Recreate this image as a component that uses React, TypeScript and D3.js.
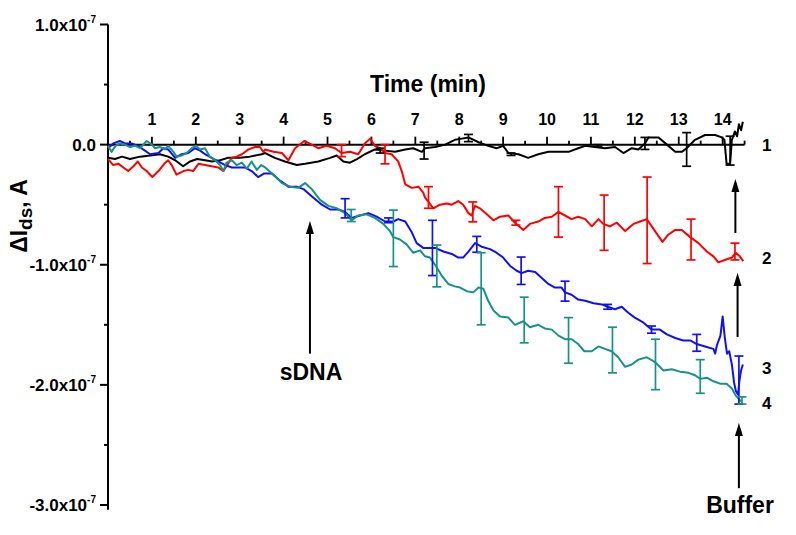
import React from "react";
import * as d3 from "d3";

// Time (min) vs ΔIds (units of 1e-7 A)
const series1: [number, number][] = [[0,-0.11],[0.16,-0.12],[0.32,-0.10],[0.5,-0.12],[0.73,-0.10],[0.96,-0.09],[1.18,-0.08],[1.37,-0.10],[1.53,-0.13],[1.71,-0.18],[1.87,-0.14],[2.03,-0.12],[2.21,-0.13],[2.37,-0.14],[2.55,-0.13],[2.73,-0.11],[3.0,-0.11],[3.23,-0.10],[3.5,-0.08],[3.58,-0.07],[3.80,-0.11],[4.03,-0.14],[4.30,-0.17],[4.49,-0.16],[4.79,-0.14],[5.06,-0.11],[5.21,-0.09],[5.36,-0.14],[5.51,-0.15],[5.67,-0.12],[5.85,-0.08],[6.08,-0.04],[6.31,-0.05],[6.54,-0.06],[6.77,-0.04],[6.95,-0.03],[7.15,-0.06],[7.22,-0.03],[7.45,-0.02],[7.68,0],[7.90,0.04],[8.06,0.05],[8.21,0.06],[8.44,0.02],[8.66,-0.01],[8.85,-0.03],[9.0,-0.01],[9.12,-0.07],[9.35,-0.08],[9.57,-0.11],[9.80,-0.08],[10.03,-0.06],[10.26,-0.06],[10.49,-0.06],[10.71,-0.03],[10.87,-0.01],[11.09,-0.02],[11.32,-0.03],[11.55,-0.02],[11.74,-0.07],[11.93,-0.03],[12.08,-0.04],[12.23,0.01],[12.31,0.06],[12.54,0.06],[12.73,0.0],[12.92,-0.06],[13.07,-0.06],[13.18,-0.03],[13.37,0.04],[13.6,0.08],[13.83,0.08],[13.98,0.06],[14.04,0.04],[14.09,-0.16],[14.17,-0.16],[14.21,0.04],[14.28,0.11],[14.33,0.07],[14.37,0.17],[14.42,0.12],[14.46,0.19]];

const series2: [number, number][] = [[0,-0.12],[0.12,-0.17],[0.24,-0.16],[0.35,-0.19],[0.46,-0.22],[0.58,-0.18],[0.68,-0.14],[0.77,-0.19],[0.88,-0.22],[1.01,-0.27],[1.15,-0.22],[1.28,-0.16],[1.37,-0.13],[1.45,-0.17],[1.56,-0.25],[1.72,-0.22],[1.83,-0.21],[1.94,-0.22],[2.06,-0.16],[2.21,-0.17],[2.36,-0.18],[2.51,-0.19],[2.63,-0.22],[2.70,-0.18],[2.82,-0.11],[2.93,-0.10],[3.05,-0.08],[3.20,-0.04],[3.35,-0.02],[3.46,-0.02],[3.54,-0.06],[3.58,-0.04],[3.77,-0.06],[3.96,-0.07],[4.11,-0.13],[4.26,-0.03],[4.47,0.03],[4.64,0],[4.79,-0.03],[4.98,-0.01],[5.17,-0.03],[5.32,-0.07],[5.51,-0.06],[5.70,-0.08],[5.85,0.01],[5.97,0.05],[6.08,-0.01],[6.2,-0.03],[6.31,-0.07],[6.46,-0.08],[6.61,-0.14],[6.69,-0.22],[6.77,-0.33],[6.92,-0.36],[7.07,-0.35],[7.18,-0.40],[7.22,-0.44],[7.41,-0.53],[7.56,-0.50],[7.72,-0.49],[7.83,-0.50],[7.98,-0.47],[8.09,-0.50],[8.21,-0.57],[8.28,-0.59],[8.36,-0.51],[8.47,-0.53],[8.63,-0.58],[8.78,-0.63],[8.93,-0.60],[9.12,-0.59],[9.27,-0.65],[9.46,-0.71],[9.61,-0.66],[9.80,-0.64],[9.95,-0.61],[10.11,-0.60],[10.26,-0.56],[10.41,-0.59],[10.56,-0.62],[10.71,-0.60],[10.87,-0.62],[11.02,-0.68],[11.17,-0.62],[11.28,-0.66],[11.43,-0.68],[11.59,-0.65],[11.78,-0.72],[11.97,-0.66],[12.12,-0.64],[12.27,-0.62],[12.46,-0.72],[12.63,-0.81],[12.76,-0.75],[12.92,-0.71],[13.07,-0.71],[13.26,-0.77],[13.45,-0.82],[13.64,-0.89],[13.79,-0.93],[13.90,-0.98],[14.05,-0.96],[14.21,-0.94],[14.3,-0.90],[14.39,-0.93],[14.47,-0.97]];

const series3: [number, number][] = [[0,-0.03],[0.12,0.01],[0.27,0.03],[0.39,0.01],[0.54,0.01],[0.69,-0.01],[0.80,-0.04],[0.96,-0.08],[1.15,-0.07],[1.26,-0.03],[1.37,-0.04],[1.53,-0.11],[1.68,-0.08],[1.83,-0.07],[1.98,-0.03],[2.10,-0.05],[2.21,-0.08],[2.36,-0.11],[2.51,-0.14],[2.67,-0.17],[2.82,-0.19],[2.97,-0.19],[3.12,-0.19],[3.27,-0.22],[3.42,-0.27],[3.56,-0.24],[3.73,-0.24],[3.92,-0.30],[4.11,-0.35],[4.30,-0.35],[4.45,-0.37],[4.64,-0.43],[4.87,-0.50],[5.06,-0.54],[5.25,-0.54],[5.40,-0.56],[5.55,-0.61],[5.74,-0.59],[5.93,-0.57],[6.12,-0.60],[6.31,-0.64],[6.50,-0.64],[6.61,-0.62],[6.77,-0.64],[6.92,-0.73],[7.03,-0.82],[7.18,-0.86],[7.45,-0.86],[7.64,-0.89],[7.83,-0.91],[7.98,-0.94],[8.09,-0.94],[8.21,-0.89],[8.36,-0.82],[8.51,-0.85],[8.70,-0.87],[8.85,-0.90],[9.00,-0.94],[9.16,-1.01],[9.31,-1.05],[9.42,-1.07],[9.57,-1.05],[9.73,-1.06],[9.88,-1.11],[10.03,-1.16],[10.18,-1.19],[10.33,-1.19],[10.41,-1.23],[10.56,-1.25],[10.71,-1.29],[10.87,-1.30],[11.06,-1.32],[11.25,-1.33],[11.38,-1.35],[11.55,-1.37],[11.70,-1.35],[11.85,-1.40],[12.00,-1.44],[12.19,-1.48],[12.38,-1.54],[12.57,-1.54],[12.73,-1.58],[12.92,-1.61],[13.10,-1.63],[13.26,-1.63],[13.41,-1.66],[13.6,-1.68],[13.79,-1.70],[13.83,-1.74],[13.87,-1.67],[13.95,-1.59],[14.0,-1.43],[14.05,-1.61],[14.10,-1.74],[14.15,-1.72],[14.21,-1.83],[14.26,-1.98],[14.30,-2.05],[14.35,-2.08],[14.38,-1.97],[14.42,-1.88],[14.46,-1.83]];

const series4: [number, number][] = [[0,-0.01],[0.08,-0.06],[0.17,-0.01],[0.27,0.01],[0.39,0.0],[0.50,-0.02],[0.62,-0.01],[0.73,-0.03],[0.88,0.03],[1.0,0.0],[1.07,-0.03],[1.18,-0.02],[1.30,-0.04],[1.37,-0.01],[1.49,-0.06],[1.56,-0.10],[1.68,-0.09],[1.79,-0.07],[1.91,-0.03],[2.0,-0.01],[2.10,-0.04],[2.21,-0.03],[2.32,-0.10],[2.44,-0.13],[2.55,-0.17],[2.63,-0.22],[2.70,-0.15],[2.82,-0.13],[2.93,-0.17],[3.05,-0.15],[3.16,-0.20],[3.27,-0.14],[3.39,-0.21],[3.49,-0.17],[3.58,-0.19],[3.77,-0.25],[3.96,-0.32],[4.15,-0.35],[4.33,-0.36],[4.49,-0.32],[4.64,-0.37],[4.83,-0.46],[5.02,-0.51],[5.21,-0.53],[5.40,-0.57],[5.55,-0.63],[5.70,-0.59],[5.89,-0.58],[6.08,-0.61],[6.27,-0.66],[6.42,-0.72],[6.50,-0.77],[6.65,-0.79],[6.80,-0.83],[6.95,-0.90],[7.11,-0.88],[7.22,-0.93],[7.33,-0.94],[7.45,-1.00],[7.60,-1.09],[7.75,-1.16],[7.90,-1.18],[8.02,-1.19],[8.17,-1.22],[8.32,-1.23],[8.44,-1.19],[8.55,-1.20],[8.66,-1.30],[8.78,-1.38],[8.93,-1.43],[9.12,-1.44],[9.27,-1.50],[9.46,-1.47],[9.61,-1.52],[9.80,-1.50],[9.95,-1.53],[10.11,-1.54],[10.26,-1.59],[10.41,-1.62],[10.56,-1.62],[10.71,-1.66],[10.85,-1.72],[11.02,-1.72],[11.17,-1.68],[11.32,-1.70],[11.47,-1.72],[11.62,-1.77],[11.78,-1.85],[11.93,-1.83],[12.08,-1.79],[12.27,-1.77],[12.46,-1.81],[12.65,-1.88],[12.84,-1.87],[13.03,-1.89],[13.22,-1.90],[13.37,-1.92],[13.49,-1.95],[13.64,-1.94],[13.79,-1.97],[13.94,-1.99],[14.09,-1.99],[14.21,-2.03],[14.30,-2.09],[14.40,-2.13],[14.44,-2.14]];

// error bars: [time, center, half-error]
const errors1: [number, number, number][] = [[6.2,-0.05,0.02],[7.2,-0.05,0.07],[8.21,0.055,0.03],[9.18,-0.08,0.01],[11.16,-0.01,0.01],[12.23,0.01,0.05],[13.18,-0.04,0.14],[14.17,-0.05,0.12]];
const errors2: [number, number, number][] = [[5.32,-0.05,0.05],[6.31,-0.08,0.08],[7.30,-0.44,0.09],[8.31,-0.56,0.083],[9.29,-0.65,0.02],[10.26,-0.56,0.21],[11.30,-0.65,0.23],[12.28,-0.63,0.36],[13.28,-0.79,0.17],[14.28,-0.89,0.07]];
const errors3: [number, number, number][] = [[5.40,-0.53,0.08],[6.39,-0.63,0.02],[7.39,-0.86,0.23],[8.40,-0.83,0.066],[9.41,-1.05,0.114],[10.41,-1.22,0.083],[11.38,-1.35,0.02],[12.38,-1.54,0.03],[13.41,-1.65,0.07],[14.37,-1.96,0.20]];
const errors4: [number, number, number][] = [[5.54,-0.59,0.05],[6.50,-0.78,0.235],[7.49,-1.01,0.174],[8.50,-1.20,0.30],[9.48,-1.46,0.19],[10.49,-1.63,0.19],[11.49,-1.71,0.19],[12.47,-1.83,0.21],[13.49,-1.93,0.14],[14.44,-2.13,0.03]];

const xTicks = [1,2,3,4,5,6,7,8,9,10,11,12,13,14];
const xMinor = [0.5,1.5,2.5,3.5,4.5,5.5,6.5,7.5,8.5,9.5,10.5,11.5,12.5,13.5,14.5];
const yTicks = [1,0,-1,-2,-3];
const yTickLabels = ["1.0x10", "0.0", "-1.0x10", "-2.0x10", "-3.0x10"];
const yMinor = [0.5,-0.5,-1.5,-2.5];

const seriesNames = ["1","2","3","4"];
const seriesLabelValues = [0, -0.94, -1.86, -2.15];
const colors = ["#000000", "#ff0000", "#1010f5", "#17918a"];

const FONT = "Arial, 'Liberation Sans', Helvetica, sans-serif";

export default function App() {
  const xS = d3.scaleLinear().domain([0, 14.5]).range([108, 744.6]);
  const yS = d3.scaleLinear().domain([-3, 1]).range([505, 24.5]);
  const line = d3.line<[number, number]>().x(d => xS(d[0])).y(d => yS(d[1]));
  const allSeries = [series1, series2, series3, series4];
  const allErrors = [errors1, errors2, errors3, errors4];
  const y0 = yS(0);
  const cap = 4.5;

  const arrow = (t: number, vTip: number, vBase: number, key: string) => {
    const x = xS(t), yt = yS(vTip), yb = yS(vBase);
    return (
      <g key={key}>
        <line x1={x} x2={x} y1={yb} y2={yt + 10} stroke="#000" strokeWidth={2} />
        <path d={`M${x},${yt} L${x - 4},${yt + 13} L${x + 4},${yt + 13} Z`} fill="#000" />
      </g>
    );
  };

  return (
    <svg width={796} height={535} style={{ position: "absolute", left: 0, top: 0, background: "#fff" }} fontFamily={FONT}>
      <rect x={0} y={0} width={796} height={535} fill="#fff" />
      {/* Y axis */}
      <line x1={108} x2={108} y1={yS(1)} y2={yS(-3.04)} stroke="#000" strokeWidth={2} />
      {yTicks.map((v, i) => (
        <g key={"yt" + v}>
          <line x1={100} x2={108} y1={yS(v)} y2={yS(v)} stroke="#000" strokeWidth={2} />
          <text x={96} y={yS(v) + 6} textAnchor="end" fontSize={17} fontWeight="bold">
            {yTickLabels[i]}
            {v !== 0 && <tspan fontSize={10} dy={-8}>-7</tspan>}
          </text>
        </g>
      ))}
      {yMinor.map(v => (
        <line key={"ym" + v} x1={104} x2={108} y1={yS(v)} y2={yS(v)} stroke="#000" strokeWidth={2} />
      ))}
      {/* X axis at zero */}
      <line x1={xS(0)} x2={xS(14.5)} y1={y0} y2={y0} stroke="#000" strokeWidth={2} />
      {xTicks.map(t => (
        <g key={"xt" + t}>
          <line x1={xS(t)} x2={xS(t)} y1={y0} y2={y0 - 8} stroke="#000" strokeWidth={1.8} />
          <text x={xS(t)} y={125} textAnchor="middle" fontSize={16} fontWeight="bold">{t}</text>
        </g>
      ))}
      {xMinor.map(t => (
        <line key={"xm" + t} x1={xS(t)} x2={xS(t)} y1={y0} y2={y0 - 4} stroke="#000" strokeWidth={1.8} />
      ))}
      <text x={428} y={92} textAnchor="middle" fontSize={23} fontWeight="bold">Time (min)</text>
      <text transform="translate(27,216) rotate(-90)" textAnchor="middle" fontSize={23} fontWeight="bold">
        ΔI<tspan fontSize={19} dy={5}>ds</tspan><tspan dy={-5}>, A</tspan>
      </text>

      {/* series */}
      {allSeries.map((s, i) => (
        <path key={"s" + i} d={line(s) || ""} fill="none" stroke={colors[i]} strokeWidth={2} strokeLinejoin="round" />
      ))}
      {allErrors.map((es, i) => (
        <g key={"e" + i} stroke={colors[i]} strokeWidth={1.7}>
          {es.map(([t, c, e], j) => {
            const x = xS(t), yt = yS(c + e), yb = yS(c - e);
            return (
              <g key={j}>
                <line x1={x} x2={x} y1={yt} y2={yb} />
                <line x1={x - cap} x2={x + cap} y1={yt} y2={yt} />
                <line x1={x - cap} x2={x + cap} y1={yb} y2={yb} />
              </g>
            );
          })}
        </g>
      ))}

      {/* series labels */}
      {seriesNames.map((n, i) => (
        <text key={"sl" + n} x={762} y={yS(seriesLabelValues[i]) + 6} fontSize={17} fontWeight="bold">{n}</text>
      ))}

      {/* annotations */}
      {arrow(4.6, -0.636, -1.74, "a1")}
      <text x={xS(4.6) + 1} y={380} textAnchor="middle" fontSize={23} fontWeight="bold">sDNA</text>
      {arrow(14.29, -0.286, -0.736, "a2")}
      {arrow(14.34, -1.069, -1.602, "a3")}
      {arrow(14.37, -2.318, -2.86, "a4")}
      <text x={740} y={513} textAnchor="middle" fontSize={23} fontWeight="bold">Buffer</text>
    </svg>
  );
}
